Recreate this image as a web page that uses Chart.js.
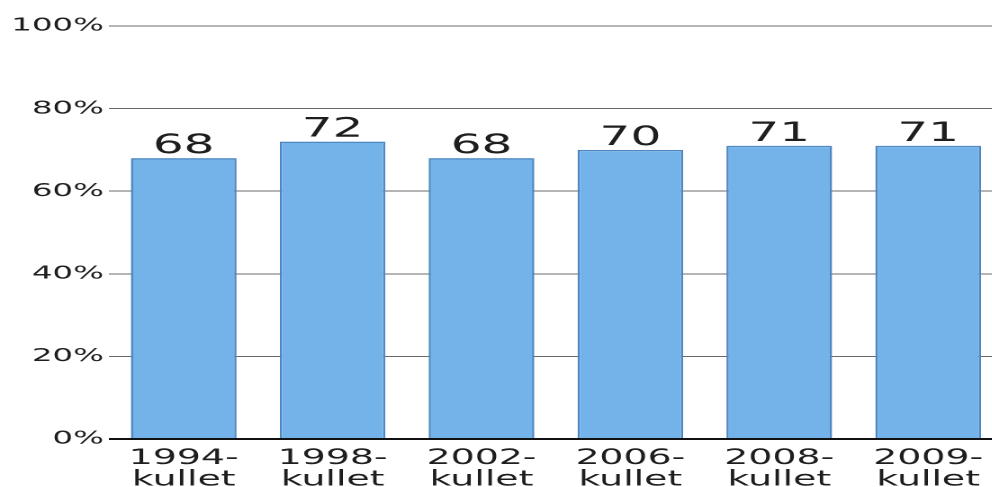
<!DOCTYPE html>
<html>
<head>
<meta charset="utf-8">
<script src="https://cdn.jsdelivr.net/npm/chart.js@4/dist/chart.umd.min.js"></script>
<style>
    html, body { margin: 0; padding: 0; background: #fff; overflow: hidden; }
    /* the original graphic is stretched sideways, so the chart is drawn narrow and widened */
    #grafico {
        display: block;
        width: 557px;
        height: 487px;
        transform: scaleX(1.8);
        transform-origin: 0 0;
    }
</style>
</head>
<body>
<canvas id="grafico" width="557" height="487"></canvas>
<script>
const categories = [['1994-', 'kullet'], ['1998-', 'kullet'], ['2002-', 'kullet'], ['2006-', 'kullet'], ['2008-', 'kullet'], ['2009-', 'kullet']];
const values = [68, 72, 68, 70, 71, 71];
const yTicks = [0, 20, 40, 60, 80, 100];

// numbers above the bars
const valueLabels = {
    id: 'valueLabels',
    afterDatasetsDraw(chart) {
        const ctx = chart.ctx;
        const meta = chart.getDatasetMeta(0);
        ctx.save();
        ctx.font = '27px "DejaVu Sans"';
        ctx.fillStyle = '#1e1e1e';
        ctx.textAlign = 'center';
        ctx.textBaseline = 'alphabetic';
        meta.data.forEach(function (bar, i) {
            ctx.fillText(String(values[i]), bar.x, bar.y - 5);
        });
        ctx.restore();
    }
};

const ctx = document.getElementById('grafico').getContext('2d');
new Chart(ctx, {
    type: 'bar',
    data: {
        labels: categories,
        datasets: [{
            data: values,
            backgroundColor: '#74b3ea',
            borderColor: '#4d88c0',
            borderWidth: 1.3,
            categoryPercentage: 1,
            barPercentage: 0.71
        }]
    },
    options: {
        responsive: false,
        animation: false,
        devicePixelRatio: 2,
        layout: { padding: { top: 26, right: 0, left: 0, bottom: 0 } },
        plugins: {
            legend: { display: false },
            tooltip: { enabled: false }
        },
        scales: {
            x: {
                grid: { display: false },
                border: { display: false },
                ticks: {
                    color: '#1e1e1e',
                    padding: 1,
                    maxRotation: 0,
                    autoSkip: false,
                    font: { family: 'DejaVu Sans', size: 21, lineHeight: 1.02 }
                },
                afterFit: function (scale) { scale.height = 48; }
            },
            y: {
                min: 0,
                max: 100,
                afterBuildTicks: function (scale) {
                    scale.ticks = yTicks.map(function (v) { return { value: v }; });
                },
                border: { display: false },
                grid: {
                    drawTicks: false,
                    color: function (c) { return c.tick && c.tick.value === 0 ? '#111' : '#6a6a6a'; },
                    lineWidth: function (c) { return c.tick && c.tick.value === 0 ? 2 : 1; }
                },
                ticks: {
                    color: '#1e1e1e',
                    padding: 3,
                    font: { family: 'DejaVu Sans', size: 18 },
                    callback: function (v) { return v + '%'; }
                },
                afterFit: function (scale) { scale.width = 60.7; }
            }
        }
    },
    plugins: [valueLabels]
});
</script>
</body>
</html>
